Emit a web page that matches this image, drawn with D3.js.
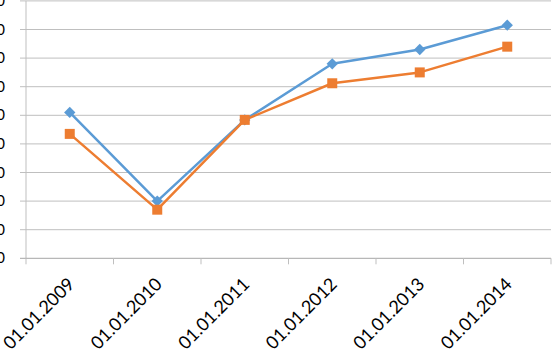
<!DOCTYPE html>
<html>
<head>
<meta charset="utf-8">
<script src="https://cdn.jsdelivr.net/npm/d3@7"></script>
<style>
  body { margin: 0; background: #fff; }
  svg { display: block; }
  text { font-family: Lato, "Open Sans", sans-serif; fill: #000; }
</style>
</head>
<body>
<div id="chart"></div>
<script>
// Data
const categories = ["01.01.2009", "01.01.2010", "01.01.2011", "01.01.2012", "01.01.2013", "01.01.2014"];
const seriesA = [51, 20, 48.4, 68, 73, 81.5];
const seriesB = [43.5, 17, 48.4, 61.2, 65, 74];
const yTicks = [0, 10, 20, 30, 40, 50, 60, 70, 80, 90];

const width = 552, height = 353;
const plot = { left: 26, right: 551, top: 0.9, bottom: 258.3 };

const svg = d3.select("#chart")
    .append("svg")
    .attr("width", width)
    .attr("height", height);

// Scales
const x = d3.scaleBand()
    .domain(categories)
    .range([plot.left, plot.right])
    .paddingInner(0)
    .paddingOuter(0);

const y = d3.scaleLinear()
    .domain([0, 90])
    .range([plot.bottom, plot.top]);

// Gridlines
svg.append("g")
    .selectAll("line")
    .data(yTicks.slice(1))
    .join("line")
    .attr("x1", plot.left - 6)
    .attr("x2", plot.right)
    .attr("y1", d => y(d))
    .attr("y2", d => y(d))
    .attr("stroke", "#bfbfbf")
    .attr("stroke-width", 1);

// Y axis line
svg.append("line")
    .attr("x1", plot.left).attr("x2", plot.left)
    .attr("y1", plot.top).attr("y2", plot.bottom)
    .attr("stroke", "#bfbfbf");

// Y tick labels (clipped at the left edge, as in the original)
svg.append("g")
    .selectAll("text")
    .data(yTicks)
    .join("text")
    .attr("x", 5)
    .attr("y", d => y(d) + 5)
    .attr("text-anchor", "end")
    .style("font-size", "15px")
    .text(d => d);

// X axis
const xAxis = svg.append("g")
    .attr("transform", `translate(0, ${plot.bottom})`);

xAxis.append("line")
    .attr("x1", plot.left - 6).attr("x2", plot.right)
    .attr("stroke", "#a6a6a6");

const bounds = categories.map(c => x(c)).concat([plot.right]);
xAxis.selectAll(".tick")
    .data(bounds)
    .join("line")
    .attr("class", "tick")
    .attr("x1", d => d).attr("x2", d => d)
    .attr("y1", 0).attr("y2", 6)
    .attr("stroke", "#bfbfbf");

xAxis.selectAll(".label")
    .data(categories)
    .join("text")
    .attr("class", "label")
    .attr("text-anchor", "end")
    .style("font-size", "18px")
    .attr("transform", d => `translate(${x(d) + x.bandwidth() / 2 + 6}, 27) rotate(-45)`)
    .text(d => d);

// Lines
const line = d3.line()
    .x((d, i) => x(categories[i]) + x.bandwidth() / 2)
    .y(d => y(d));

const series = [
    { values: seriesA, color: "#5b9bd5", symbol: d3.symbolSquare, size: 64, rotate: 45 },
    { values: seriesB, color: "#ed7d31", symbol: d3.symbolSquare, size: 100, rotate: 0 }
];

series.forEach(s => {
    svg.append("path")
        .datum(s.values)
        .attr("fill", "none")
        .attr("stroke", s.color)
        .attr("stroke-width", 2.5)
        .attr("stroke-linejoin", "round")
        .attr("d", line);
});

series.forEach(s => {
    svg.append("g")
        .selectAll("path")
        .data(s.values)
        .join("path")
        .attr("d", d3.symbol().type(s.symbol).size(s.size))
        .attr("transform", (d, i) => `translate(${x(categories[i]) + x.bandwidth() / 2}, ${y(d)}) rotate(${s.rotate})`)
        .attr("fill", s.color);
});
</script>
</body>
</html>
